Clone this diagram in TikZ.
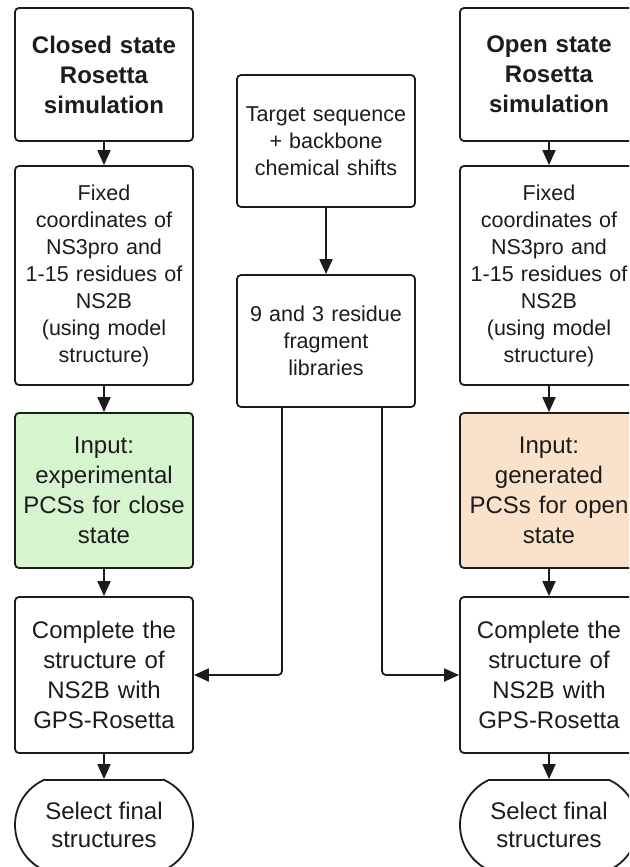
\documentclass[tikz,border=0pt]{standalone}
\usepackage{fontspec}
\setmainfont{Liberation Sans}
\usetikzlibrary{arrows.meta,shapes.misc}

\definecolor{ink}{RGB}{28,28,28}
\definecolor{closefill}{RGB}{214,245,207}
\definecolor{openfill}{RGB}{250,225,202}

\tikzset{
  x=1pt, y=1pt,
  box/.style={draw=ink, line width=1.8pt, rounded corners=4pt, fill=white,
    minimum width=178pt, text width=170pt, align=center, inner sep=0pt,
    text=ink},
  small/.style={font=\fontsize{21.5}{27}\selectfont},
  large/.style={font=\fontsize{24}{30}\selectfont},
  title/.style={font=\fontsize{24}{30}\selectfont\bfseries},
  terminal/.style={draw=ink, line width=1.8pt, rounded rectangle,
    rounded rectangle arc length=130, fill=white, minimum width=178pt,
    minimum height=90pt, inner sep=0pt, align=center, text=ink,
    font=\fontsize{24}{28}\selectfont},
  arr/.style={draw=ink, line width=1.8pt,
    -{Triangle[length=15pt,width=13pt]}},
}

\begin{document}
\begin{tikzpicture}
  \useasboundingbox (0,0) rectangle (629,-867);
  \fill[white] (0,0) rectangle (629,-867);
  \clip (0,0) rectangle (629,-867);

  % closed state column
  \node[box, title, minimum height=133pt] (lt) at (104,-74.5)
    {Closed state\\Rosetta\\simulation};
  \node[box, small, minimum height=219pt] (lf) at (104,-275.5)
    {Fixed\\coordinates of\\NS3pro and\\1-15 residues of\\NS2B\\(using model\\structure)};
  \node[box, large, fill=closefill, minimum height=155pt] (li) at (104,-490.5)
    {Input:\\experimental\\PCSs for close\\state};
  \node[box, large, minimum height=156pt] (lc) at (104,-675)
    {Complete the\\structure of\\NS2B with\\GPS-Rosetta};
  \node[terminal] (ls) at (104,-825) {Select final\\structures};

  % open state column
  \node[box, title, minimum height=133pt] (rt) at (549,-74.5)
    {Open state\\Rosetta\\simulation};
  \node[box, small, minimum height=219pt] (rf) at (549,-275.5)
    {Fixed\\coordinates of\\NS3pro and\\1-15 residues of\\NS2B\\(using model\\structure)};
  \node[box, large, fill=openfill, minimum height=155pt] (ri) at (549,-490.5)
    {Input:\\generated\\PCSs for open\\state};
  \node[box, large, minimum height=156pt] (rc) at (549,-675)
    {Complete the\\structure of\\NS2B with\\GPS-Rosetta};
  \node[terminal] (rs) at (549,-825) {Select final\\structures};

  % shared inputs in the middle
  \node[box, small, minimum height=132pt] (tg) at (326,-141)
    {Target sequence\\+ backbone\\chemical shifts};
  \node[box, small, minimum height=132pt] (fr) at (326,-341)
    {9 and 3 residue\\fragment\\libraries};

  % vertical flow
  \foreach \a/\b in {lt/lf, lf/li, li/lc, lc/ls, rt/rf, rf/ri, ri/rc, rc/rs, tg/fr}
    \draw[arr] (\a.south) -- (\b.north);

  % fragment libraries feed both GPS-Rosetta runs
  \draw[arr, rounded corners=4pt] ([xshift=-44pt]fr.south) |- (lc.east);
  \draw[arr, rounded corners=4pt] ([xshift=56pt]fr.south) |- (rc.west);
\end{tikzpicture}
\end{document}
